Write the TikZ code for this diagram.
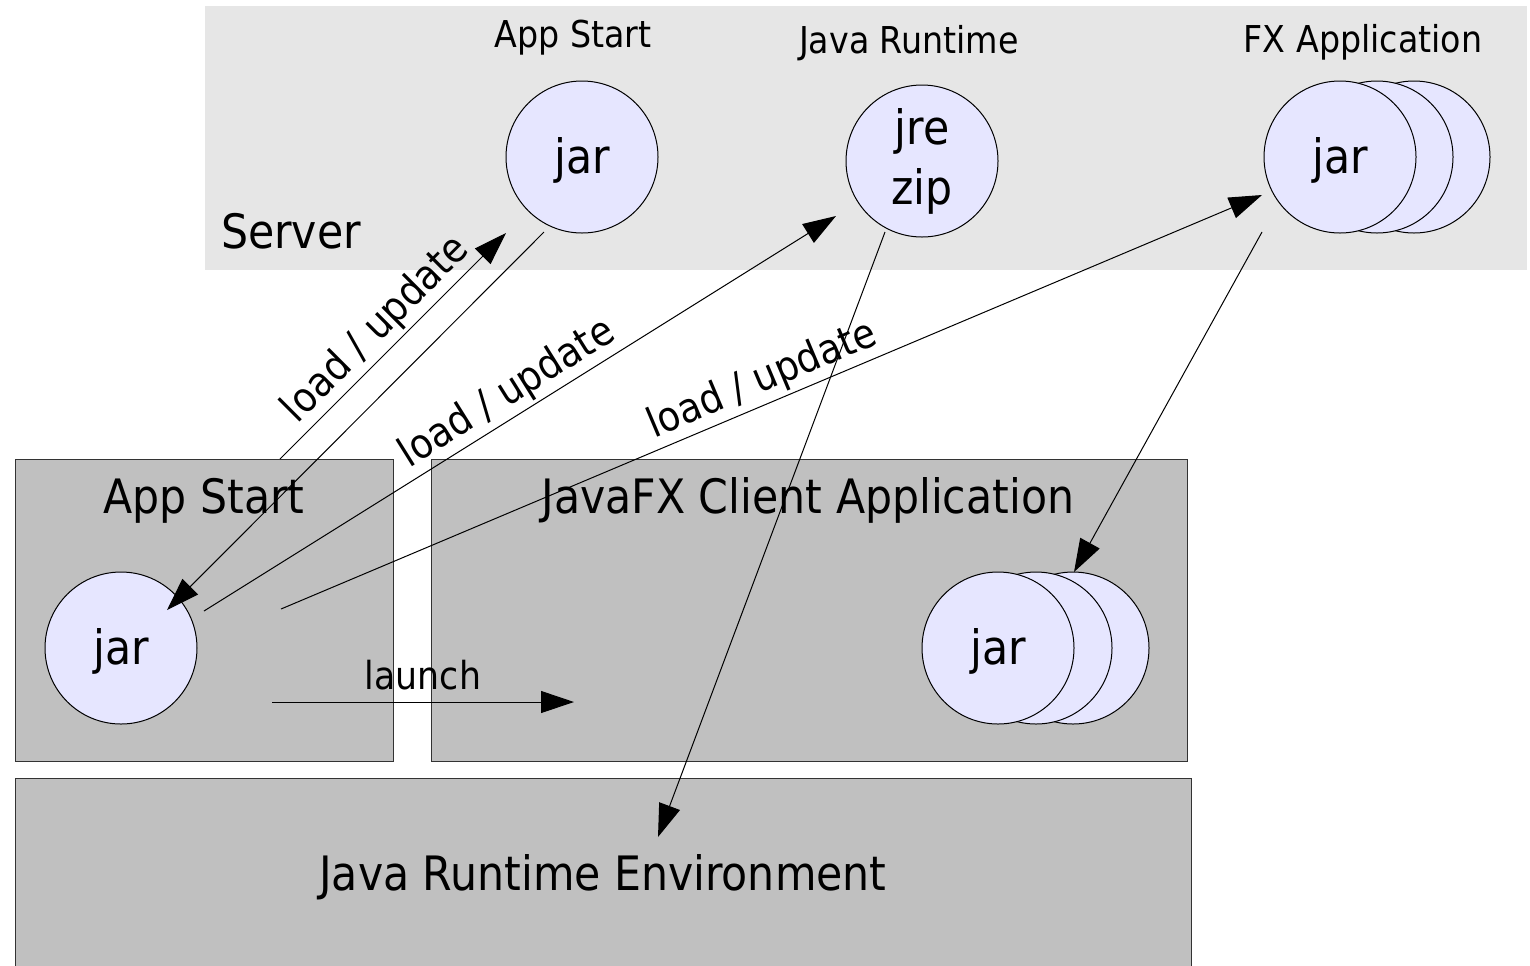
\documentclass[tikz,border=0pt]{standalone}
\usepackage{fontspec}
\setmainfont{DejaVu Sans Condensed}
\usetikzlibrary{arrows.meta}

\definecolor{servergray}{HTML}{E6E6E6}
\definecolor{clientgray}{HTML}{C0C0C0}
\definecolor{jarblue}{HTML}{E6E6FF}
\newcommand\sizelarge{\fontsize{23.7}{30}\selectfont}
\newcommand\sizesmall{\fontsize{18.5}{22}\selectfont}
\newcommand\sizelink{\fontsize{20.5}{24}\selectfont}

\tikzset{
  jarball/.style={circle, draw, fill=jarblue, line width=0.5pt, minimum size=76pt, inner sep=0pt,
    font=\sizelarge, text height=21.5pt, text depth=5.5pt},
  area/.style={draw=black!80, line width=0.5pt, fill=clientgray},
  link/.style={-{Triangle[length=16.5pt,width=11pt]}, line width=0.5pt},
  caption/.style={font=\sizesmall, anchor=base},
  title/.style={font=\sizelarge, anchor=base},
  loadlbl/.style={sloped, above, pos=0.5, font=\sizelink, inner sep=1.5pt}
}

\begin{document}
\begin{tikzpicture}[x=0.5pt,y=-0.5pt]
  \useasboundingbox (0,0) rectangle (1530,965);

  % server side
  \fill[servergray] (205,6) rectangle (1527,270);
  \node[title, anchor=base west] (server) at (214,248) {Server};
  \node[caption] (startcap) at (573,47) {App Start};
  \node[caption] (jrecap) at (909,53) {Java Runtime};
  \node[caption] (fxcap) at (1363,52) {FX Application};
  \node[jarball] (srvjar) at (582,157) {jar};
  \node[jarball, align=center, text height=, text depth=] (srvjre) at (922,161) {jre\\zip};
  \foreach \x/\n in {1414/c,1377/b}
    \node[jarball] (srvfx\n) at (\x,157) {};
  \node[jarball] (srvfx) at (1340,157) {jar};

  % client side
  \draw[area] (15,459) rectangle (393,761);
  \draw[area] (431,459) rectangle (1187,761);
  \draw[area] (15,778) rectangle (1191,970);
  \node[title] (startbox) at (204,513) {App Start};
  \node[title] (fxbox) at (808,513) {JavaFX Client Application};
  \node[title] (jrebox) at (603,890) {Java Runtime Environment};
  \node[jarball] (cltjar) at (121,648) {jar};
  \foreach \x/\n in {1073/c,1036/b}
    \node[jarball] (cltfx\n) at (\x,648) {};
  \node[jarball] (cltfx) at (998,648) {jar};

  % connector ends
  \coordinate (s1) at (280,459);   \coordinate (t1) at (506,233);
  \coordinate (s2) at (544,232);   \coordinate (t2) at (167,610);
  \coordinate (s3) at (204,611);   \coordinate (t3) at (836,216);
  \coordinate (s4) at (281,609);   \coordinate (t4) at (1262,195);
  \coordinate (s5) at (885,232);   \coordinate (t5) at (658,837);
  \coordinate (s6) at (1262,232);  \coordinate (t6) at (1074,572);
  \coordinate (s7) at (272,702);   \coordinate (t7) at (574,702);

  \draw[link] (s1) -- node[loadlbl] {load / update} (t1);
  \draw[link] (s2) -- (t2);
  \draw[link] (s3) -- node[loadlbl] {load / update} (t3);
  \draw[link] (s4) -- node[loadlbl] {load / update} (t4);
  \draw[link] (s5) -- (t5);
  \draw[link] (s6) -- (t6);
  \draw[link] (s7) -- node[above, yshift=2.5pt, font=\fontsize{19.3}{22}\selectfont] {launch} (t7);
\end{tikzpicture}
\end{document}
